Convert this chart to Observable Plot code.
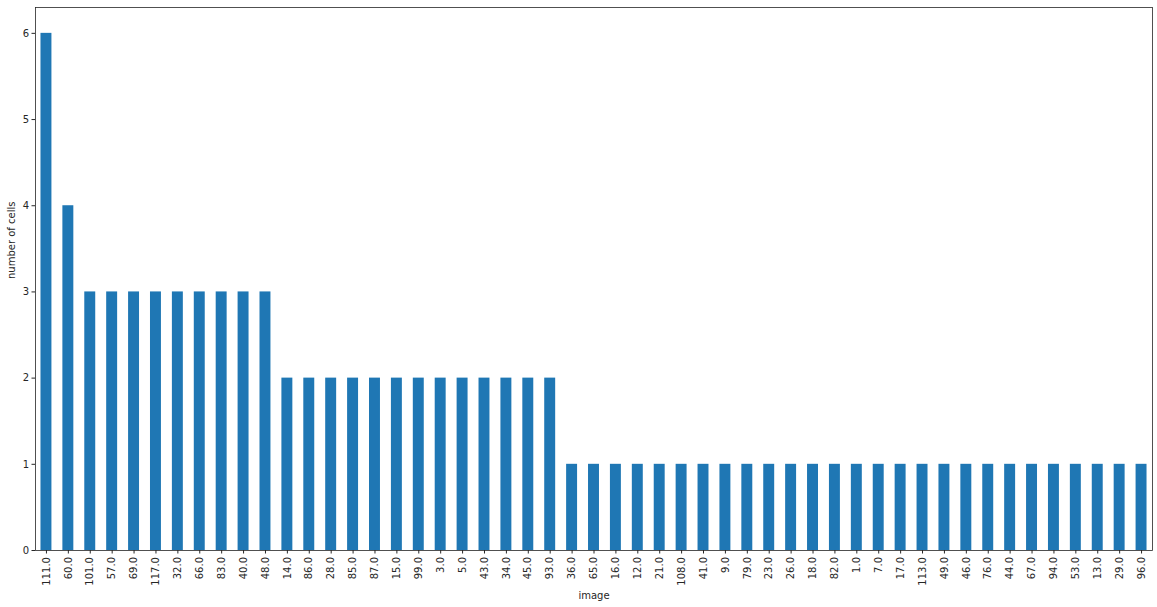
<!DOCTYPE html>
<html>
<head>
<meta charset="utf-8">
<script src="https://cdn.jsdelivr.net/npm/d3@7"></script>
<script src="https://cdn.jsdelivr.net/npm/@observablehq/plot@0.6"></script>
<style>
html,body{margin:0;padding:0;background:#fff;}
svg{display:block;}
</style>
</head>
<body>
<div id="chart"></div>
<script>
const images = ["111.0","60.0","101.0","57.0","69.0","117.0","32.0","66.0","83.0","40.0","48.0","14.0","86.0","28.0","85.0","87.0","15.0","99.0","3.0","5.0","43.0","34.0","45.0","93.0","36.0","65.0","16.0","12.0","21.0","108.0","41.0","9.0","79.0","23.0","26.0","18.0","82.0","1.0","7.0","17.0","113.0","49.0","46.0","76.0","44.0","67.0","94.0","53.0","13.0","29.0","96.0"];
const counts = [6,4,3,3,3,3,3,3,3,3,3,2,2,2,2,2,2,2,2,2,2,2,2,2,1,1,1,1,1,1,1,1,1,1,1,1,1,1,1,1,1,1,1,1,1,1,1,1,1,1,1];
const yTicks = [0,1,2,3,4,5,6];

const data = images.map((d, i) => ({image: d, count: counts[i]}));

const chart = Plot.plot({
  width: 1157,
  height: 607,
  marginLeft: 35,
  marginRight: 5,
  marginTop: 7,
  marginBottom: 57,
  style: {fontFamily: "DejaVu Sans", fontSize: "10px", color: "#262626", background: "#fff"},
  x: {domain: images, paddingInner: 0.5, paddingOuter: 0.25, label: null},
  y: {domain: [0, 6.3], label: null},
  marks: [
    Plot.barY(data, {x: "image", y: "count", fill: "#1f77b4"}),
    Plot.axisX({tickRotate: -90, tickSize: 3.5, tickPadding: 3, label: null, fontSize: 10}),
    Plot.axisY({ticks: yTicks, tickSize: 3.5, tickPadding: 3, label: null, fontSize: 10, tickFormat: d3.format("d")}),
    Plot.frame({stroke: "#262626", strokeWidth: 0.8}),
    Plot.text(["image"], {frameAnchor: "bottom", dy: 48, fontSize: 10, fill: "#262626"}),
    Plot.text(["number of cells"], {frameAnchor: "left", dx: -24, rotate: -90, fontSize: 10, fill: "#262626"})
  ]
});
document.getElementById("chart").appendChild(chart);
</script>
</body>
</html>
